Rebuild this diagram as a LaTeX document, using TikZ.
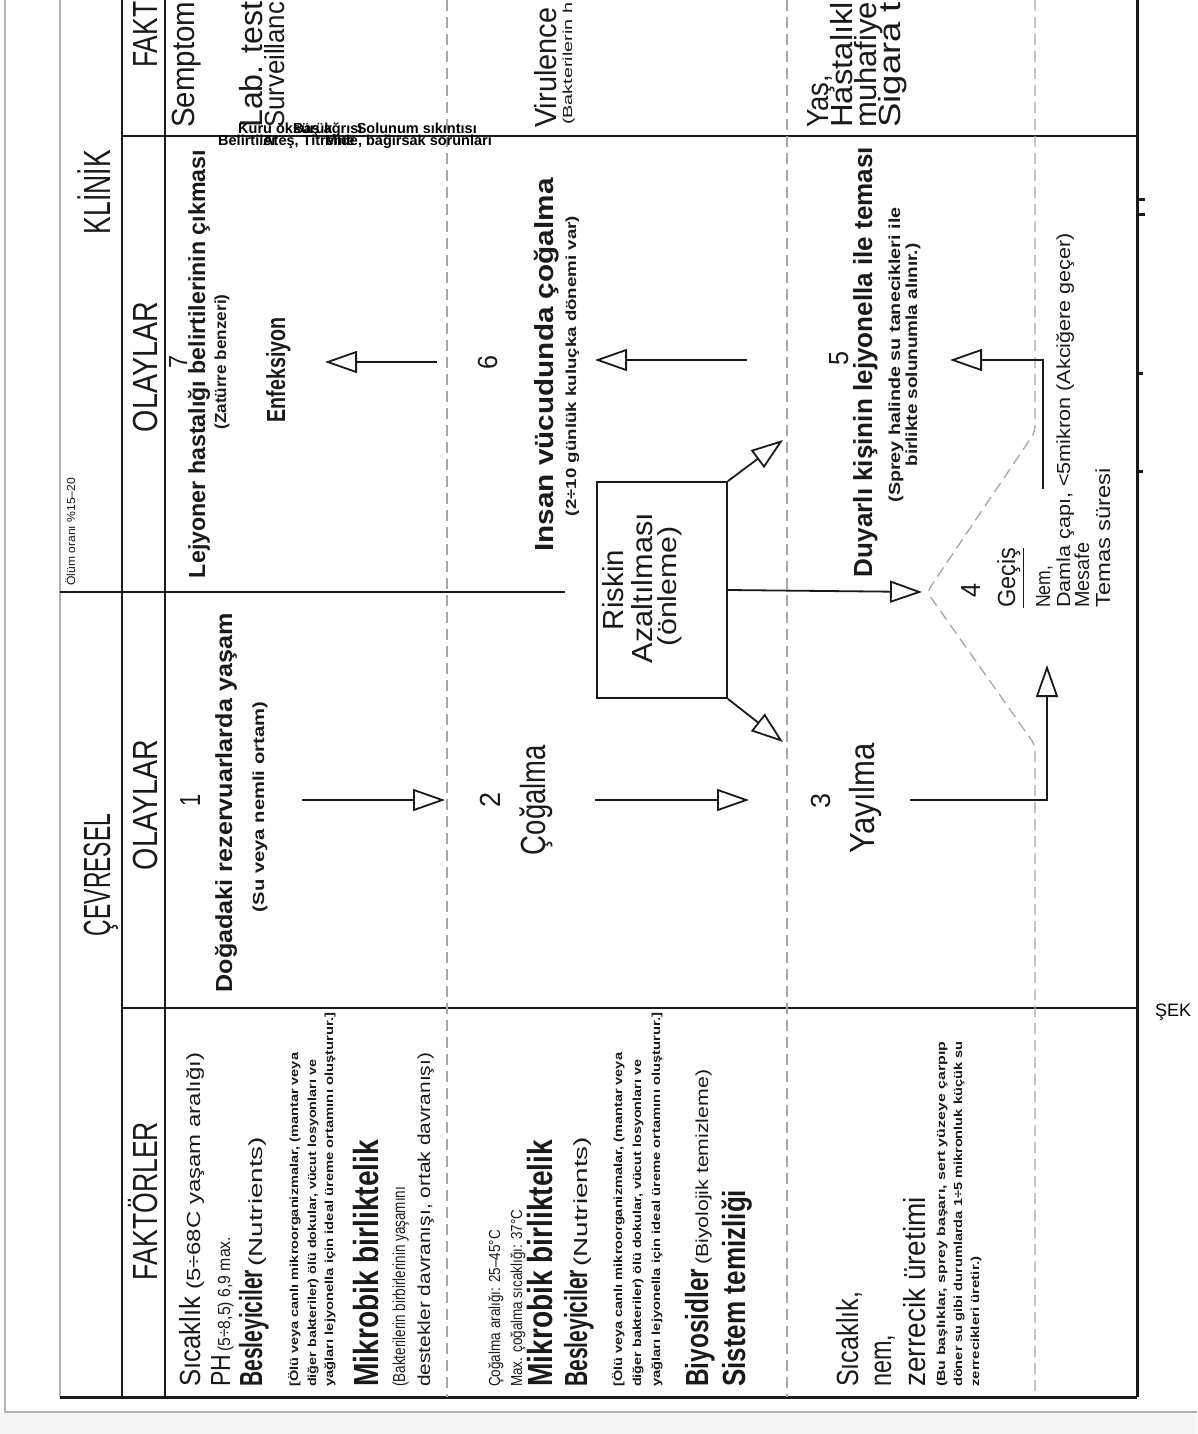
\documentclass[tikz,border=0pt]{standalone}
\usepackage{fontspec}
\usepackage{graphicx}
\setmainfont{Liberation Sans}
\usetikzlibrary{arrows.meta}
\definecolor{ink}{HTML}{1A1A1A}
\newcommand\T[3]{\resizebox{#1pt}{#2pt}{\vphantom{H}\smash{#3}}}
\newcommand\B[3]{\resizebox{#1pt}{#2pt}{\bfseries\vphantom{H}\smash{#3}}}
\begin{document}
\begin{tikzpicture}[x=1pt,y=-1pt,
  rt/.style={rotate=90,inner sep=0pt,anchor=base west,text=ink},
  rc/.style={rotate=90,inner sep=0pt,anchor=base,text=ink},
  frame/.style={draw=ink,line width=2pt},
  heavy/.style={draw=ink,line width=3pt},
  edge/.style={draw=gray!60,line width=1.6pt},
  dline/.style={draw=gray!70,line width=1.3pt,dash pattern=on 11pt off 6pt},
  oarrow/.style={draw=ink,line width=1.8pt,-{Triangle[open,length=32pt,width=22pt]}},
  ov/.style={inner sep=0pt,anchor=base west,font=\bfseries\fontsize{14.5}{15}\selectfont,text=black}
]
\useasboundingbox (0,0) rectangle (1197,1434);
\fill[white] (0,0) rectangle (1197,1434);
\fill[gray!8] (0,1412) rectangle (1197,1434);
\clip (0,0) rectangle (1197,1434);

% page edge
\draw[edge] (5,0) -- (5,1412) -- (1197,1412);

% table frame
\draw[edge,line width=2.4pt] (60,0) -- (60,1397);
\draw[frame] (122,0) -- (122,1397);
\draw[frame] (165,0) -- (165,1397);
\draw[heavy] (1137,0) -- (1137,1397);
\draw[heavy] (60,1397) -- (1137,1397);
\draw[frame] (122,1008) -- (1137,1008);
\draw[frame] (122,136) -- (1137,136);
\draw[frame] (60,592) -- (565,592);
% scan ticks on right border
\draw[heavy] (1137,200) -- (1145,200);
\draw[heavy] (1137,214) -- (1145,214);
\draw[heavy] (1137,373) -- (1143,373);
\draw[heavy] (1137,471) -- (1143,471);

% dashed row separators
\draw[dline] (447,0) -- (447,1397);
\draw[dline] (787,0) -- (787,1397);
\draw[dline,rounded corners=6pt] (1035,0) -- (1035,432) -- (927,592) -- (1035,745) -- (1035,1397);

% headers
\node[rc] (hcev) at (110,875) {\T{122}{26}{ÇEVRESEL}};
\node[rc] (hkli) at (110,192) {\T{84}{26}{KLİNİK}};
\node[rt] (olum) at (75,586) {\T{108}{8}{Ölüm oranı \%15–20}};
\node[rc] (hfak1) at (157,1201) {\T{158}{24}{FAKTÖRLER}};
\node[rc] (hola1) at (157,805) {\T{130}{24}{OLAYLAR}};
\node[rc] (hola2) at (157,367) {\T{130}{24}{OLAYLAR}};
\node[rt] (hfak2) at (157,68) {\T{66}{24}{FAKT}};

% left FAKTORLER group 1
\node[rt] (f1a) at (200,1387) {\T{90}{20}{Sıcaklık}};
\node[rt] (f1b) at (200,1290) {\T{237}{13}{(5÷68C yaşam aralığı)}};
\node[rt] (f1c) at (230,1387) {\T{32}{19}{PH}};
\node[rt] (f1d) at (230,1352) {\T{115}{12}{(5÷8,5) 6,9 max.}};
\node[rt] (f1e) at (262,1387) {\B{117}{22}{Besleyiciler}};
\node[rt] (f1f) at (262,1267) {\T{130}{13}{(Nutrients)}};
\node[rt] (f1g) at (298,1387) {\B{334}{8}{[Ölü veya canlı mikroorganizmalar, (mantar veya}};
\node[rt] (f1h) at (316,1387) {\B{327}{8}{diğer bakteriler) ölü dokular, vücut losyonları ve}};
\node[rt] (f1i) at (333,1387) {\B{374}{8}{yağları lejyonella için ideal üreme ortamını oluşturur.]}};
\node[rt] (f1j) at (378,1387) {\B{247}{24}{Mikrobik birliktelik}};
\node[rt] (f1k) at (405,1387) {\T{200}{12}{(Bakterilerin birbirlerinin yaşamını}};
\node[rt] (f1l) at (430,1387) {\T{334}{12}{destekler davranışı, ortak davranışı)}};

% left FAKTORLER group 2
\node[rt] (f2a) at (500,1387) {\T{157}{11}{Çoğalma aralığı: 25–45°C}};
\node[rt] (f2b) at (522,1387) {\T{177}{11}{Max. çoğalma sıcaklığı: 37°C}};
\node[rt] (f2c) at (552,1387) {\B{247}{24}{Mikrobik birliktelik}};
\node[rt] (f2d) at (587,1387) {\B{117}{22}{Besleyiciler}};
\node[rt] (f2e) at (587,1267) {\T{130}{13}{(Nutrients)}};
\node[rt] (f2f) at (622,1387) {\B{334}{8}{[Ölü veya canlı mikroorganizmalar, (mantar veya}};
\node[rt] (f2g) at (641,1387) {\B{327}{8}{diğer bakteriler) ölü dokular, vücut losyonları ve}};
\node[rt] (f2h) at (660,1387) {\B{374}{8}{yağları lejyonella için ideal üreme ortamını oluşturur.]}};
\node[rt] (f2i) at (708,1387) {\B{118}{22}{Biyosidler}};
\node[rt] (f2j) at (708,1265) {\T{195}{12}{(Biyolojik temizleme)}};
\node[rt] (f2k) at (745,1387) {\B{197}{22}{Sistem temizliği}};

% left FAKTORLER group 3
\node[rt] (f3a) at (858,1387) {\T{95}{21}{Sıcaklık,}};
\node[rt] (f3b) at (891,1387) {\T{52}{21}{nem,}};
\node[rt] (f3c) at (925,1387) {\T{190}{21}{zerrecik üretimi}};
\node[rt] (f3d) at (945,1387) {\B{345}{8}{(Bu başlıklar, sprey başarı, sert yüzeye çarpıp}};
\node[rt] (f3e) at (962,1387) {\B{345}{8}{döner su gibi durumlarda 1÷5 mikronluk küçük su}};
\node[rt] (f3f) at (979,1387) {\B{130}{8}{zerrecikleri üretir.)}};

% right FAKTORLER (cut at the top edge)
\node[rt] (k1) at (194,128) {\T{126}{22}{Semptom}};
\node[rt] (k2) at (262,128) {\T{126}{22}{Lab. test}};
\node[rt] (k3) at (284,128) {\T{126}{19}{Surveillanc}};
\node[rt] (k4) at (556,128) {\T{120}{21}{Virulence}};
\node[rt] (k5) at (572,125) {\T{122}{9}{(Bakterilerin h}};
\node[rt] (k6) at (828,128) {\T{53}{21}{Yaş,}};
\node[rt] (k7) at (852,128) {\T{126}{21}{Hastalıkl}};
\node[rt] (k8) at (876,128) {\T{126}{21}{muhafiye}};
\node[rt] (k9) at (900,128) {\T{126}{21}{Sigara t}};

% row 1
\node[rc] (n1) at (200,800) {\T{12}{20}{1}};
\node[rc] (e1) at (232,803) {\B{379}{16}{Doğadaki rezervuarlarda yaşam}};
\node[rc] (e1s) at (264,807) {\B{210}{11}{(Su veya nemli ortam)}};
% row 2
\node[rc] (n2) at (500,800) {\T{15}{20}{2}};
\node[rc] (e2) at (545,800) {\T{110}{24}{Çoğalma}};
% row 3
\node[rc] (n3) at (830,801) {\T{15}{19}{3}};
\node[rc] (e3) at (874,798) {\T{110}{24}{Yayılma}};
% row 4
\node[rc] (n4) at (980,590) {\T{14}{19}{4}};
\node[rt] (e4) at (1015,608) {\T{60}{17}{\underline{Geçiş}}};
\node[rt] (g1) at (1050,608) {\T{42}{14}{Nem,}};
\node[rt] (g2) at (1070,608) {\T{375}{13}{Damla çapı, <5mikron (Akciğere geçer)}};
\node[rt] (g3) at (1089,608) {\T{65}{14}{Mesafe}};
\node[rt] (g4) at (1110,608) {\T{140}{14}{Temas süresi}};
% row 5
\node[rc] (n5) at (848,358) {\T{14}{19}{5}};
\node[rc] (e5) at (872,362) {\B{430}{18}{Duyarlı kişinin lejyonella ile teması}};
\node[rc] (e5a) at (900,355) {\B{295}{11}{(Sprey halinde su tanecikleri ile}};
\node[rc] (e5b) at (917,355) {\B{223}{11}{birlikte solunumla alınır.)}};
% row 6
\node[rc] (n6) at (497,362) {\T{14}{19}{6}};
\node[rc] (e6) at (553,365) {\B{373}{18}{Insan vücudunda çoğalma}};
\node[rc] (e6s) at (576,366) {\B{300}{10}{(2÷10 günlük kuluçka dönemi var)}};
% row 7
\node[rc] (n7) at (187,362) {\T{13}{18}{7}};
\node[rc] (e7) at (205,364) {\B{428}{16}{Lejyoner hastalığı belirtilerinin çıkması}};
\node[rc] (e7s) at (226,362) {\B{135}{11}{(Zatürre benzeri)}};
\node[rc] (e7b) at (285,370) {\B{105}{18}{Enfeksiyon}};

% risk box
\node[draw=ink,line width=1.8pt,minimum width=130pt,minimum height=216pt,inner sep=0pt] (box) at (662,590) {};
\node[rc] (r1) at (623,590) {\T{80}{20}{Riskin}};
\node[rc] (r2) at (652,588) {\T{150}{20}{Azaltılması}};
\node[rc] (r3) at (676,586) {\T{120}{18}{(önleme)}};

% connectors
\coordinate (a1s) at (302,800); \coordinate (a1e) at (445,800);
\coordinate (a2s) at (595,800); \coordinate (a2e) at (749,800);
\coordinate (a3s) at (910,800); \coordinate (a3c) at (1047,800); \coordinate (a3e) at (1047,665);
\coordinate (a4s) at (1043,489); \coordinate (a4c) at (1043,360); \coordinate (a4e) at (950,360);
\coordinate (a5s) at (747,360); \coordinate (a5e) at (595,360);
\coordinate (a6s) at (437,362); \coordinate (a6e) at (325,362);
\coordinate (apex) at (922,592);
\coordinate (bu) at (783,440); \coordinate (bd) at (783,742);

\draw[oarrow] (a1s) -- (a1e);
\draw[oarrow] (a2s) -- (a2e);
\draw[oarrow] (a3s) -- (a3c) -- (a3e);
\draw[oarrow] (a4s) -- (a4c) -- (a4e);
\draw[oarrow] (a5s) -- (a5e);
\draw[oarrow] (a6s) -- (a6e);
\draw[oarrow] (box.east) -- (apex);
\draw[oarrow] (box.north east) -- (bu);
\draw[oarrow] (box.south east) -- (bd);

% overlaid labels
\node[ov] (s1) at (238,134) {Kuru öksürük};
\node[ov] (s2) at (293,134) {Baş ağrısı};
\node[ov,anchor=base east] (s3) at (477,134) {Solunum sıkıntısı};
\node[ov] (s4) at (218,146) {Belirtiler};
\node[ov] (s5) at (263,146) {Ateş, Titreme};
\node[ov,anchor=base east] (s6) at (492,146) {Mide, bağırsak sorunları};

\node[inner sep=0pt,anchor=base west,font=\fontsize{18}{20}\selectfont] (sek) at (1155,1016) {ŞEK};
\end{tikzpicture}
\end{document}
